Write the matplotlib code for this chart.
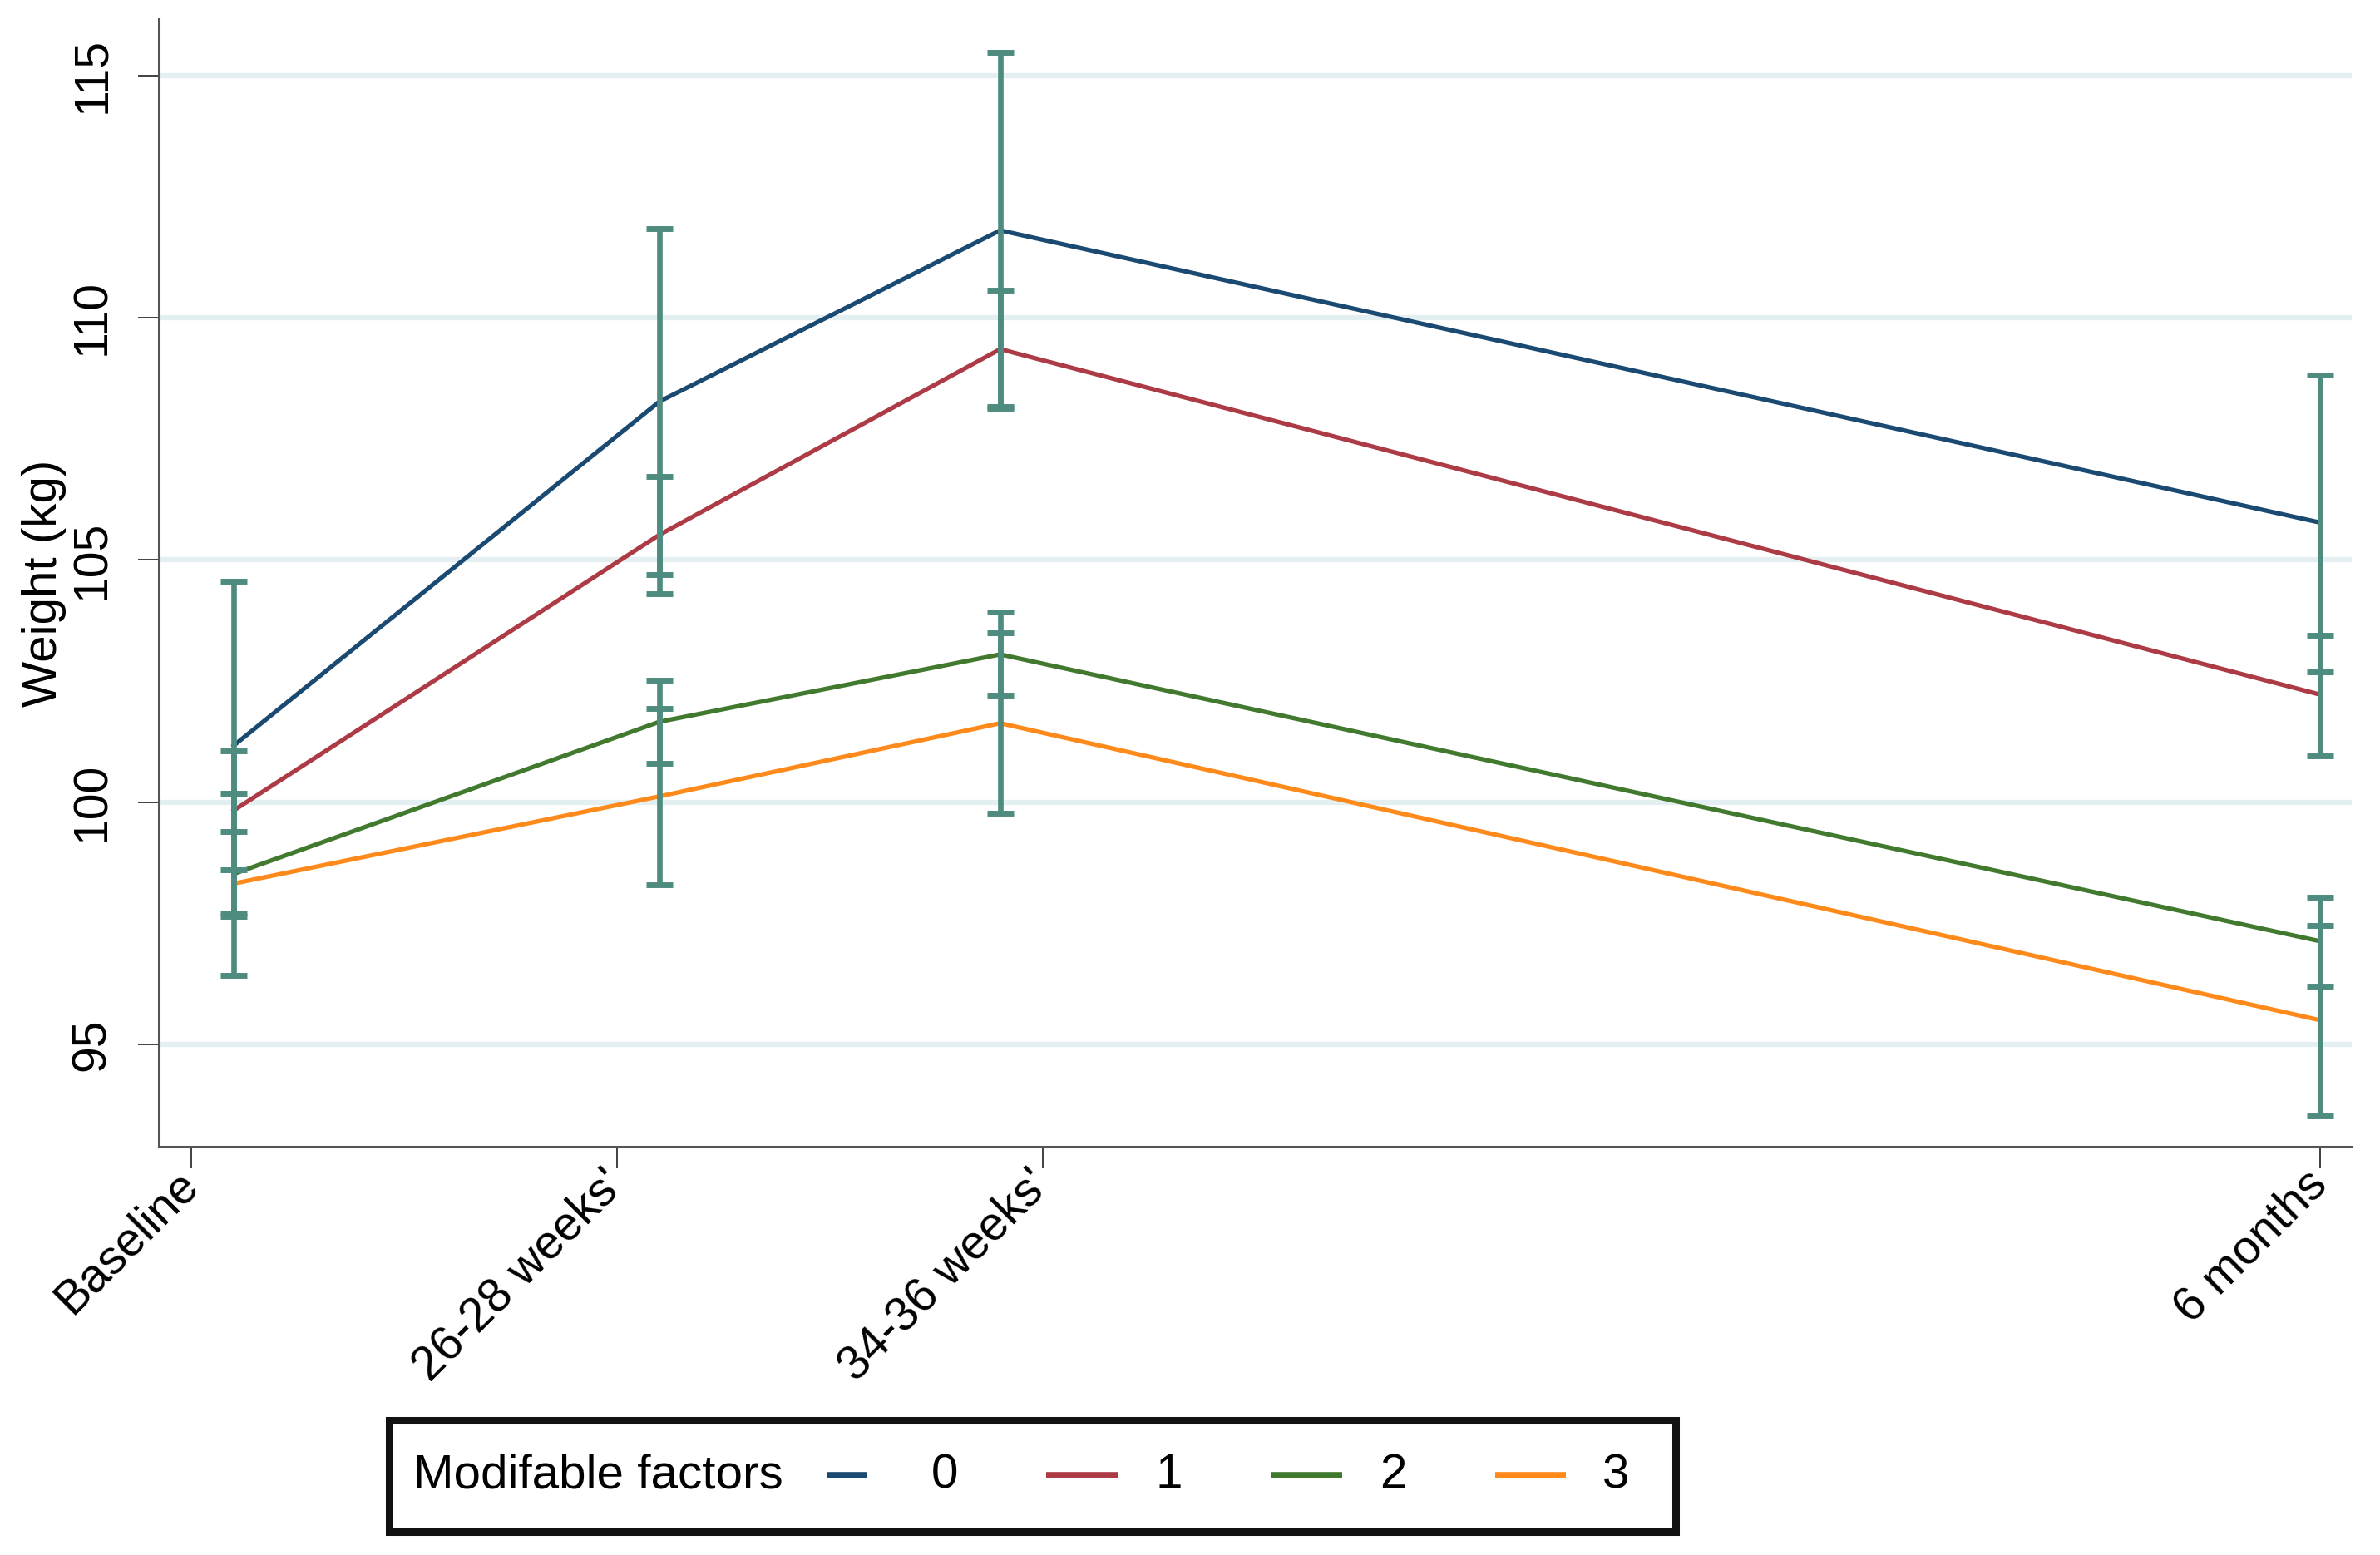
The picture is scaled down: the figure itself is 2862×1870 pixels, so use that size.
import matplotlib
matplotlib.use('Agg')
import matplotlib.pyplot as plt
from matplotlib.lines import Line2D
from matplotlib.patches import Rectangle

plt.rcParams['font.family'] = ['Liberation Sans', 'DejaVu Sans']

# time points (weeks) and axis labels
weeks = [17, 27, 35, 66]
tick_pos = [16, 26, 36, 66]
tick_labels = ["Baseline", "26-28 weeks'", "34-36 weeks'", "6 months"]

# mean weight by number of modifiable factors
f0 = [101.17, 108.27, 111.80, 105.77]
f1 = [99.83, 105.52, 109.35, 102.22]
f2 = [98.52, 101.66, 103.05, 97.13]
f3 = [98.32, 100.12, 101.63, 95.50]

# 95% CI bounds
f0_lo = [97.72, 104.69, 108.13, 102.69]
f0_hi = [104.56, 111.84, 115.47, 108.82]
f1_lo = [98.60, 104.31, 108.17, 100.95]
f1_hi = [101.05, 106.72, 110.56, 103.45]
f2_lo = [97.64, 100.80, 102.20, 96.21]
f2_hi = [99.39, 102.52, 103.93, 98.03]
f3_lo = [96.43, 98.30, 99.78, 93.52]
f3_hi = [100.19, 101.93, 103.50, 97.45]

group_names = ['0', '1', '2', '3']
colors = ['#1a4a72', '#ad3b46', '#41792f', '#ff8a1c']
ci_color = '#4f8c80'

W, H = 2862, 1870
fig = plt.figure(figsize=(W / 100, H / 100), dpi=100)
ax = fig.add_axes([191 / W, 1 - 1379 / H, (2828 - 191) / W, (1379 - 23) / H])

means = [f0, f1, f2, f3]
lows = [f0_lo, f1_lo, f2_lo, f3_lo]
highs = [f0_hi, f1_hi, f2_hi, f3_hi]

for m, c in zip(means, colors):
    ax.plot(weeks, m, color=c, lw=3.8, zorder=3)

for lo, hi in zip(lows, highs):
    ax.vlines(weeks, lo, hi, color=ci_color, lw=4.8, zorder=4)
    for y in (lo, hi):
        ax.plot(weeks, y, linestyle='none', marker='_', markersize=23,
                markeredgewidth=5, color=ci_color, zorder=4)

ax.set_xlim(15.24, 66.74)
ax.set_ylim(92.89, 116.16)
ax.set_yticks([95, 100, 105, 110, 115])
ax.grid(axis='y', color='#e4eff1', lw=4.5, zorder=0)
ax.set_axisbelow(True)

ax.set_xticks(tick_pos)
ax.set_xticklabels(tick_labels, rotation=45, ha='right', va='center',
                   rotation_mode='anchor', fontsize=41)
ax.tick_params(axis='x', length=19, width=1.3, color='#333333', pad=8)
ax.tick_params(axis='y', length=18, width=1.3, color='#333333', pad=20,
               labelsize=41, labelrotation=90)
for lbl in ax.get_yticklabels():
    lbl.set_va('center')
ax.set_ylabel('Weight (kg)', fontsize=42, labelpad=3)

for side in ('top', 'right'):
    ax.spines[side].set_visible(False)
for side in ('left', 'bottom'):
    ax.spines[side].set_color('#555555')
    ax.spines[side].set_linewidth(2.2)

# legend box, built by hand (title sits on the same row as the keys)
def fx(px):
    return px / W

def fy(px):
    return 1 - px / H

fig.add_artist(Rectangle((fx(468), fy(1842)), fx(2015) - fx(468), fy(1708) - fy(1842),
                         transform=fig.transFigure, fill=False, lw=6.5,
                         edgecolor='#111111'))
ly = fy(1774)
fig.text(fx(497), ly, 'Modifable factors', fontsize=42, va='center', ha='left')
handle_x = [(994, 1043), (1258, 1345), (1529, 1614), (1798, 1883)]
label_x = [1136, 1406, 1675, 1943]
for (x0, x1), lx, c, name in zip(handle_x, label_x, colors, group_names):
    fig.add_artist(Line2D([fx(x0), fx(x1)], [ly, ly], transform=fig.transFigure,
                          color=c, lw=5.5, solid_capstyle='butt'))
    fig.text(fx(lx), ly, name, fontsize=42, va='center', ha='center')

plt.savefig('out.png', dpi=100, facecolor='white')
